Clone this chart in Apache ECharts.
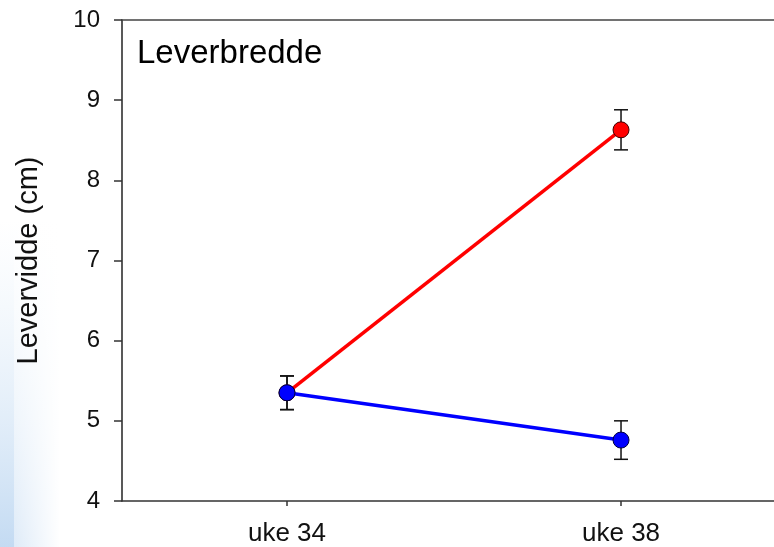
<!DOCTYPE html>
<html>
<head>
<meta charset="utf-8">
<script src="https://cdn.jsdelivr.net/npm/echarts@6/dist/echarts.min.js"></script>
<style>html,body{margin:0;padding:0;background:#fff}#c{width:774px;height:547px}</style>
</head>
<body>
<div id="c"></div>
<script>
var categories = ['uke 34', 'uke 38'];
var redMean = [5.35, 8.63];
var redErr = [0.21, 0.25];
var blueMean = [5.35, 4.76];
var blueErr = [0.21, 0.24];
var yTicks = [4, 5, 6, 7, 8, 9, 10];

var chart = echarts.init(document.getElementById('c'));
var font = 'Liberation Sans, Arial, sans-serif';
var catIdx = categories.map(function (c, i) { return i; });

function pairs(mean) {
  return mean.map(function (m, i) { return [i, m]; });
}
function errData(mean, err) {
  return mean.map(function (m, i) { return [i, m - err[i], m + err[i]]; });
}
function errRender(params, api) {
  var x = api.value(0);
  var lo = api.coord([x, api.value(1)]);
  var hi = api.coord([x, api.value(2)]);
  var w = 7;
  var st = { stroke: '#111', lineWidth: 1.5 };
  return {
    type: 'group',
    children: [
      { type: 'line', shape: { x1: lo[0], y1: lo[1], x2: hi[0], y2: hi[1] }, style: st },
      { type: 'line', shape: { x1: lo[0] - w, y1: lo[1], x2: lo[0] + w, y2: lo[1] }, style: st },
      { type: 'line', shape: { x1: hi[0] - w, y1: hi[1], x2: hi[0] + w, y2: hi[1] }, style: st }
    ]
  };
}

chart.setOption({
  backgroundColor: '#fff',
  animation: false,
  graphic: [
    {
      type: 'rect', z: -10, silent: true,
      shape: { x: 0, y: 220, width: 60, height: 327 },
      style: {
        fill: new echarts.graphic.LinearGradient(0, 0, 0, 1, [
          { offset: 0, color: 'rgba(220,235,248,0)' },
          { offset: 1, color: 'rgba(185,212,240,0.85)' }
        ])
      }
    },
    {
      type: 'rect', z: -9, silent: true,
      shape: { x: 14, y: 220, width: 46, height: 327 },
      style: {
        fill: new echarts.graphic.LinearGradient(0, 0, 1, 0, [
          { offset: 0, color: 'rgba(255,255,255,0.45)' },
          { offset: 1, color: 'rgba(255,255,255,1)' }
        ])
      }
    }
  ],
  title: {
    text: 'Leverbredde',
    left: 132, top: 32,
    textStyle: { fontFamily: font, fontSize: 33, fontWeight: 'normal', color: '#000' }
  },
  grid: {
    left: 122, top: 20, right: 0, bottom: 45,
    show: false
  },
  xAxis: [{
    type: 'value',
    min: -0.494, max: 1.458,
    splitLine: { show: false },
    axisLine: { onZero: false, lineStyle: { color: '#333', width: 1.5 } },
    axisTick: { customValues: catIdx, length: 5, lineStyle: { color: '#333', width: 1.5 } },
    axisLabel: {
      customValues: catIdx,
      fontFamily: font, fontSize: 26, color: '#111', margin: 20,
      formatter: function (v) { return categories[Math.round(v)] || ''; }
    }
  }, {
    type: 'value',
    position: 'top',
    min: -0.494, max: 1.458,
    splitLine: { show: false },
    axisLine: { show: true, onZero: false, lineStyle: { color: '#444', width: 1.5 } },
    axisTick: { show: false },
    axisLabel: { show: false }
  }],
  yAxis: {
    type: 'value',
    min: 4, max: 10, interval: 1,
    name: 'Levervidde (cm)',
    nameLocation: 'middle',
    nameGap: 79,
    nameTextStyle: { fontFamily: font, fontSize: 29, color: '#111' },
    splitLine: { show: false },
    axisLine: { show: true, onZero: false, lineStyle: { color: '#222', width: 1.5 } },
    axisTick: { show: true, length: 8, lineStyle: { color: '#333', width: 1.5 } },
    axisLabel: {
      fontFamily: font, fontSize: 24, color: '#111', margin: 22,
      formatter: function (v) { return yTicks.indexOf(v) >= 0 ? String(v) : ''; }
    }
  },
  series: [
    { type: 'custom', renderItem: errRender, data: errData(redMean, redErr), z: 1 },
    { type: 'custom', renderItem: errRender, data: errData(blueMean, blueErr), z: 1 },
    {
      type: 'line', data: pairs(redMean), z: 3,
      lineStyle: { color: '#ff0000', width: 3.5 },
      symbol: 'circle', symbolSize: 16,
      itemStyle: { color: '#ff0000', borderColor: '#400000', borderWidth: 1 }
    },
    {
      type: 'line', data: pairs(blueMean), z: 4,
      lineStyle: { color: '#0000ff', width: 3.5 },
      symbol: 'circle', symbolSize: 16,
      itemStyle: { color: '#0000ff', borderColor: '#000040', borderWidth: 1 }
    }
  ]
});
</script>
</body>
</html>
